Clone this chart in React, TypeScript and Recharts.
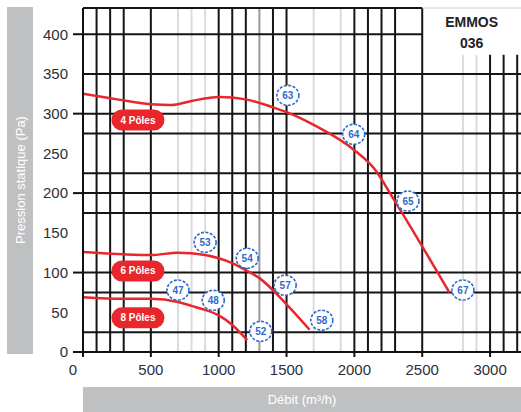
import React from "react";
import { ComposedChart, Line, Scatter, XAxis, YAxis, ReferenceLine, ReferenceArea } from "recharts";

// courbes ventilateur (débit m3/h, pression Pa)
const flow4 = [0, 250, 500, 650, 800, 1000, 1200, 1400, 1500, 1700, 2000, 2150, 2280, 2500, 2700];
const press4 = [325, 318, 312, 311, 316, 321, 318, 308, 302, 286, 254, 230, 195, 133, 75];
const flow6 = [0, 300, 500, 700, 900, 1000, 1100, 1200, 1300, 1500, 1670];
const press6 = [126, 123, 122, 125, 122, 118, 112, 103, 93, 60, 28];
const flow8 = [0, 300, 500, 700, 800, 900, 1000, 1100, 1210];
const press8 = [69, 67, 67, 63, 58, 53, 46, 34, 15];

// points acoustiques
const markerIds = ["63", "64", "65", "67", "53", "54", "57", "58", "47", "48", "52"];
const markerFlow = [1510, 1995, 2395, 2800, 900, 1210, 1490, 1760, 700, 960, 1310];
const markerPress = [323, 274, 190, 78, 138, 118, 84, 40, 78, 65, 26];

const poleLabels = ["4 Pôles", "6 Pôles", "8 Pôles"];
const poleFlow = [405, 405, 405];
const polePress = [292, 102, 43];

const xTicks = [0, 500, 1000, 1500, 2000, 2500, 3000];
const yTicks = [0, 50, 100, 150, 200, 250, 300, 350, 400];

// quadrillage de fond
const gridDarkX = [100, 200, 300, 500, 1000, 1100, 1200, 1400, 1500, 2000, 2100, 2200, 2300, 2500, 3000, 3100, 3200];
const gridMidX = [1300];
const gridLightX = [700, 800, 900, 1700, 1900, 2800, 2900];
const gridY = [25, 75, 100, 175, 200, 225, 275, 300, 350, 400];

const X_MAX = 3228;
const Y_MAX = 433;
const BOX_X = 2500;
const BOX_Y = 374;

const toPoints = (xs: number[], ys: number[]) => xs.map((x, i) => ({ x, y: ys[i] }));
const curve4 = toPoints(flow4, press4);
const curve6 = toPoints(flow6, press6);
const curve8 = toPoints(flow8, press8);
const markers = markerIds.map((id, i) => ({ x: markerFlow[i], y: markerPress[i], id }));
const pills = poleLabels.map((label, i) => ({ x: poleFlow[i], y: polePress[i], label }));

const FONT = "'Liberation Sans', Arial, sans-serif";
const RED = "#e8262b";

function YTick(props: any) {
  const { x, y, payload } = props;
  const major = payload.value % 100 === 0;
  return (
    <g>
      {major && <line x1={x + 5} x2={x + 15} y1={y} y2={y} stroke="#111" strokeWidth={2} />}
      <text x={x} y={y} dy="0.355em" textAnchor="end" fontSize={15} fontFamily={FONT} fill="#2e2e3a">
        {payload.value}
      </text>
    </g>
  );
}

function XTick(props: any) {
  const { x, y, payload } = props;
  const shift = payload.value === 0 ? -10 : 0;
  return (
    <text x={x + shift} y={y} dy="0.71em" textAnchor="middle" fontSize={15} fontFamily={FONT} fill="#2e2e3a">
      {payload.value}
    </text>
  );
}

function Marker(props: any) {
  const { cx, cy, payload } = props;
  return (
    <g>
      <ellipse cx={cx} cy={cy} rx={11} ry={10} fill="#fff" stroke="#2f6ad0" strokeWidth={1.6} strokeDasharray="3 1.5" />
      <text x={cx} y={cy} dy="0.35em" textAnchor="middle" fontSize={10} fontFamily={FONT} fontWeight="bold" fill="#2f6ad0">
        {payload.id}
      </text>
    </g>
  );
}

function Pill(props: any) {
  const { cx, cy, payload } = props;
  return (
    <g>
      <rect x={cx - 26.5} y={cy - 10.5} width={53} height={21} rx={10.5} fill={RED} />
      <text x={cx} y={cy} dy="0.35em" textAnchor="middle" fontSize={10} fontFamily={FONT} fontWeight="bold" fill="#fff">
        {payload.label}
      </text>
    </g>
  );
}

function YBand() {
  return (
    <g>
      <rect x={7} y={7} width={26} height={347} fill="#bfc0c2" />
      <text x={20} y={180} transform="rotate(-90 20 180)" dy="0.35em" textAnchor="middle" fontSize={13} fontFamily={FONT} fill="#fff">
        Pression statique (Pa)
      </text>
    </g>
  );
}

function XBand() {
  return (
    <g>
      <rect x={83} y={387} width={438} height={25} fill="#bfc0c2" />
      <text x={302} y={399.5} dy="0.35em" textAnchor="middle" fontSize={13} fontFamily={FONT} fill="#fff">
        Débit (m³/h)
      </text>
    </g>
  );
}

function TitleBox(props: any) {
  const { viewBox } = props;
  const cx = viewBox.x + viewBox.width / 2;
  return (
    <g>
      <text x={cx} y={viewBox.y + 14} dy="0.35em" textAnchor="middle" fontSize={14} fontWeight="bold" fontFamily={FONT} fill="#222">
        EMMOS
      </text>
      <text x={cx} y={viewBox.y + 35} dy="0.35em" textAnchor="middle" fontSize={14} fontWeight="bold" fontFamily={FONT} fill="#222">
        036
      </text>
    </g>
  );
}

const vLine = (x: number, stroke: string, key: string) => {
  const top = x > BOX_X ? BOX_Y : Y_MAX;
  return (
    <ReferenceLine
      key={key}
      segment={[{ x, y: 0 }, { x, y: top }]}
      stroke={stroke}
      strokeWidth={2}
      ifOverflow="visible"
    />
  );
};

export default function App() {
  return (
    <div style={{ position: "absolute", left: 0, top: 0, width: 521, height: 412, background: "#fff" }}>
      <ComposedChart width={521} height={412} data={curve4} margin={{ top: 8, right: 0, left: 0, bottom: 0 }}>
        <XAxis
          type="number"
          dataKey="x"
          domain={[0, X_MAX]}
          ticks={xTicks}
          allowDataOverflow
          height={60}
          tickSize={5}
          tickMargin={7}
          tick={<XTick />}
          tickLine={{ stroke: "#111", strokeWidth: 2 }}
          axisLine={{ stroke: "#111", strokeWidth: 2 }}
          label={{ content: () => <XBand /> }}
        />
        <YAxis
          type="number"
          dataKey="y"
          domain={[0, Y_MAX]}
          ticks={yTicks}
          allowDataOverflow
          width={83}
          tickSize={10}
          tickMargin={5}
          tickLine={false}
          tick={<YTick />}
          axisLine={{ stroke: "#111", strokeWidth: 2 }}
          label={{ content: () => <YBand /> }}
        />

        {gridLightX.map((x) => vLine(x, "#dcdcdc", `l${x}`))}
        {gridMidX.map((x) => vLine(x, "#9a9a9a", `m${x}`))}
        {gridDarkX.map((x) => vLine(x, "#151515", `d${x}`))}
        {gridY.map((y) => (
          <ReferenceLine
            key={`h${y}`}
            segment={[{ x: 0, y }, { x: y >= BOX_Y ? BOX_X : X_MAX, y }]}
            stroke="#151515"
            strokeWidth={2}
            ifOverflow="visible"
          />
        ))}
        <ReferenceLine segment={[{ x: 0, y: Y_MAX }, { x: BOX_X, y: Y_MAX }]} stroke="#151515" strokeWidth={2} ifOverflow="visible" />
        <ReferenceLine segment={[{ x: BOX_X, y: Y_MAX }, { x: X_MAX, y: Y_MAX }]} stroke="#d0d0d0" strokeWidth={1} ifOverflow="visible" />
        <ReferenceArea x1={BOX_X} x2={X_MAX} y1={BOX_Y} y2={Y_MAX} fill="none" stroke="none" label={{ content: (p: any) => <TitleBox {...p} /> }} />

        <Line data={curve4} dataKey="y" type="monotone" stroke={RED} strokeWidth={2.5} dot={false} isAnimationActive={false} />
        <Line data={curve6} dataKey="y" type="monotone" stroke={RED} strokeWidth={2.5} dot={false} isAnimationActive={false} />
        <Line data={curve8} dataKey="y" type="monotone" stroke={RED} strokeWidth={2.5} dot={false} isAnimationActive={false} />
        <Scatter data={markers} dataKey="y" shape={<Marker />} isAnimationActive={false} />
        <Scatter data={pills} dataKey="y" shape={<Pill />} isAnimationActive={false} />
      </ComposedChart>
    </div>
  );
}
